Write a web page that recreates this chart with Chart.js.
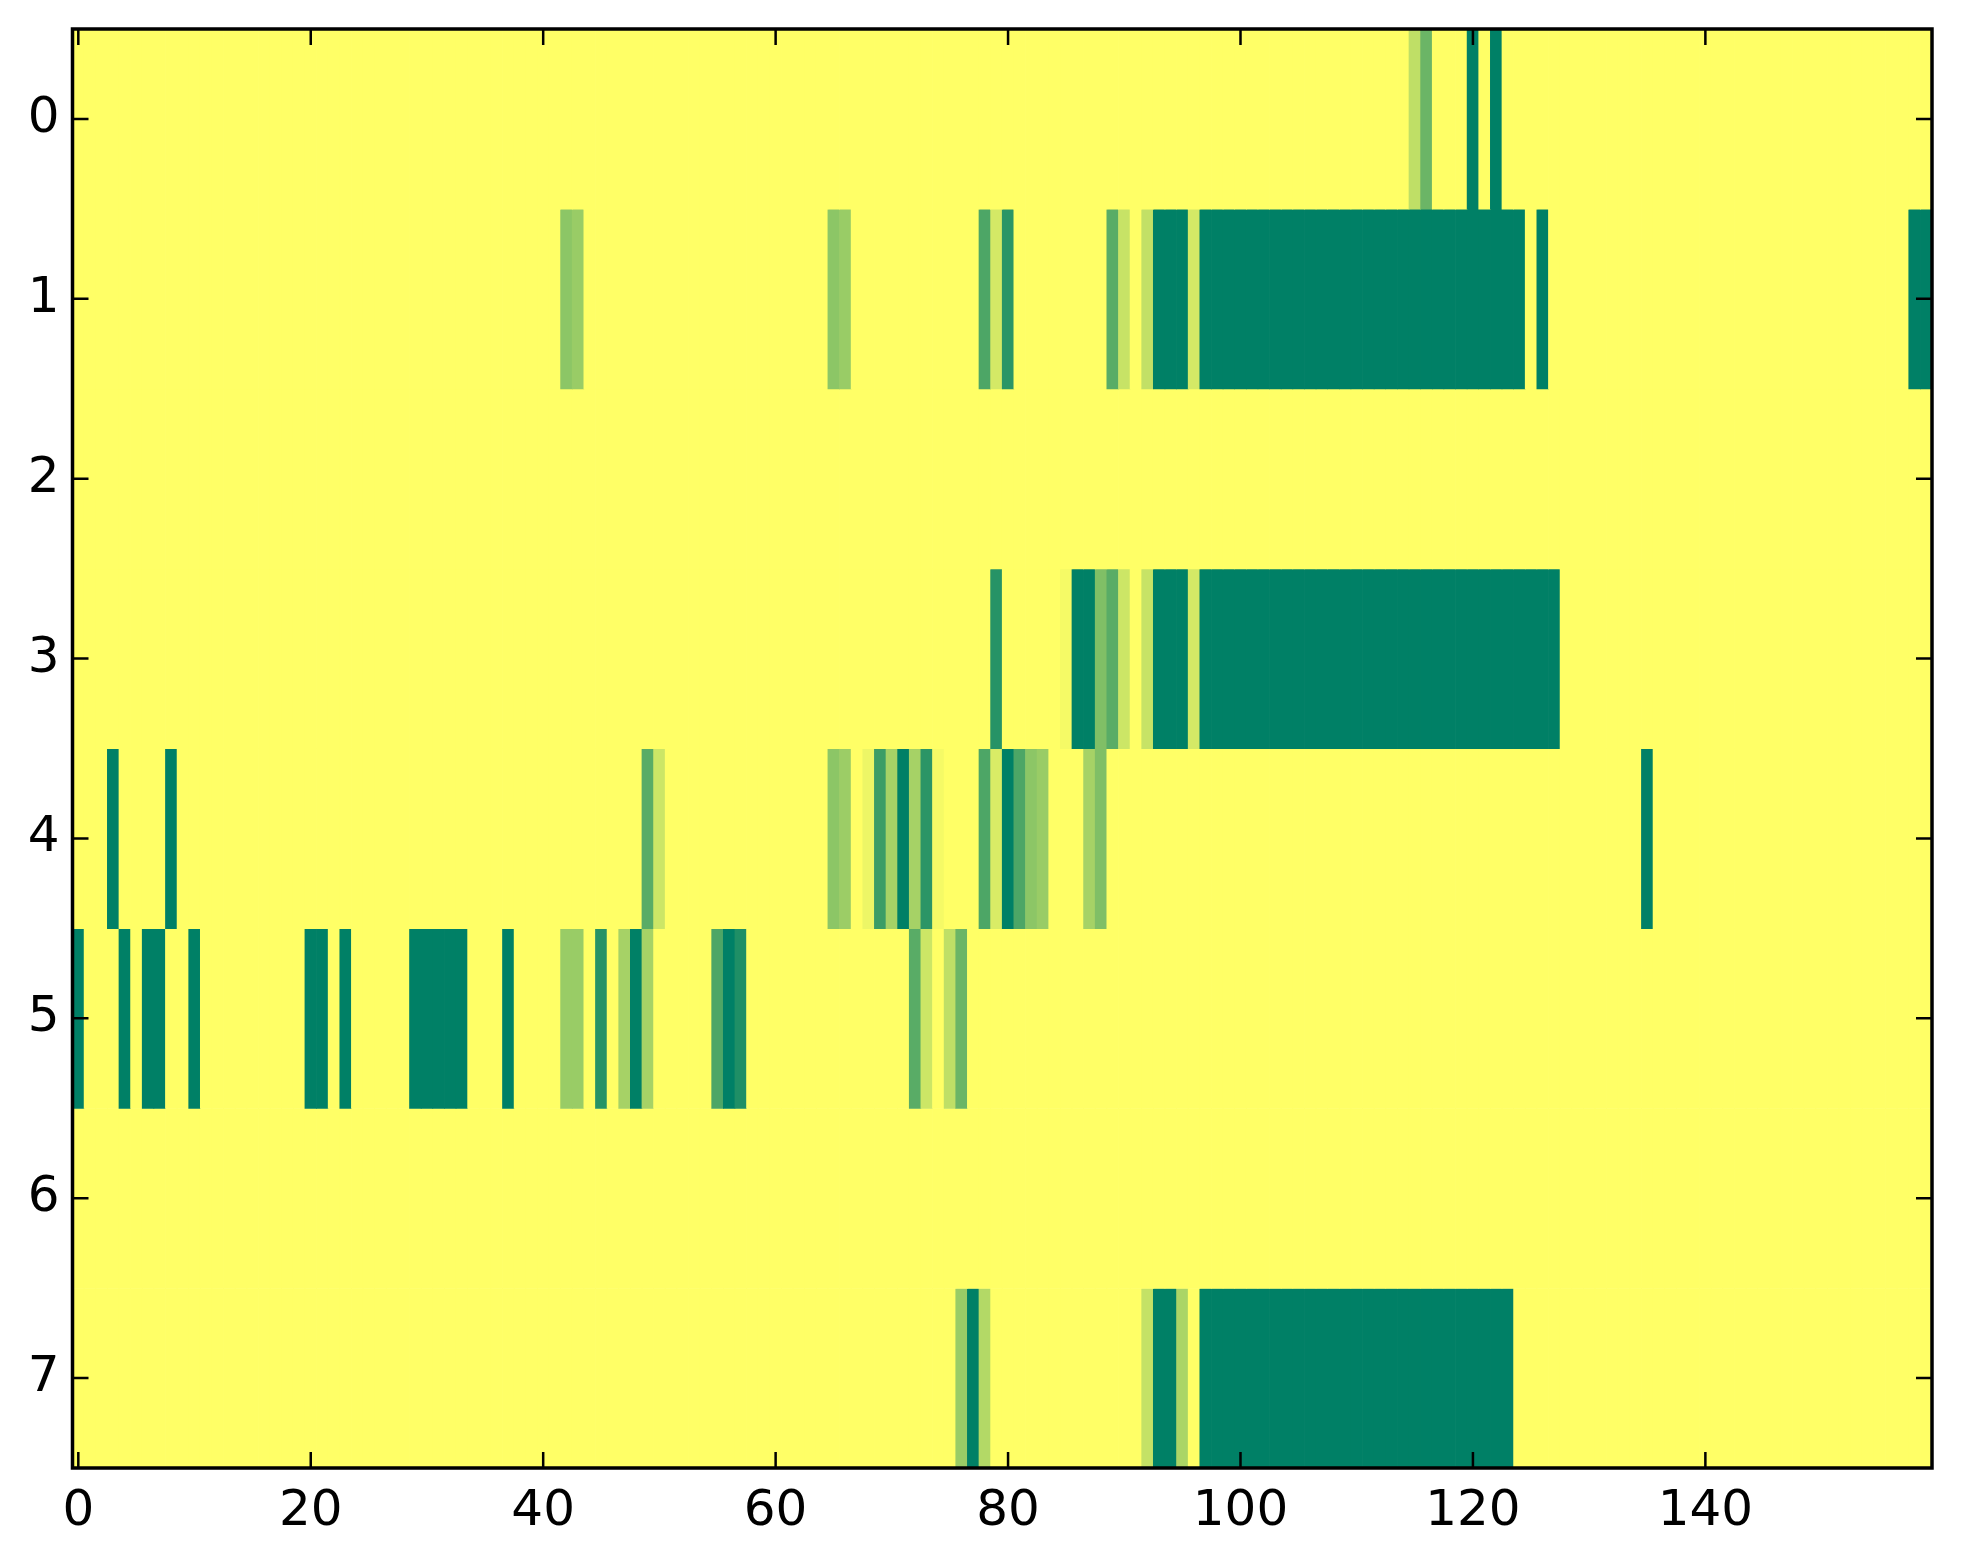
<!DOCTYPE html>
<html>
<head>
<meta charset="utf-8">
<script src="https://cdn.jsdelivr.net/npm/chart.js@4.4.1/dist/chart.umd.min.js"></script>
<style>
  html, body { margin: 0; padding: 0; background: #fff; }
  #wrap { width: 1963px; height: 1564px; position: relative; }
</style>
</head>
<body>
<div id="wrap"><canvas id="heat"></canvas></div>
<script>
// grid size
const nCols = 160;
const rowLabels = [0, 1, 2, 3, 4, 5, 6, 7];
const xTicks = [0, 20, 40, 60, 80, 100, 120, 140];

// non-zero cells of each row, as [column, value]  (value 0..1, everything else is 0)
const row0 = [[115, 0.25], [116, 0.58], [120, 1], [122, 1]];
const row1 = [[42, 0.45], [43, 0.4], [65, 0.45], [66, 0.4], [78, 0.7], [79, 0.17], [80, 0.83],
  [89, 0.65], [90, 0.22], [92, 0.24], [93, 1], [94, 1], [95, 1], [96, 0.17],
  [97, 1], [98, 1], [99, 1], [100, 1], [101, 1], [102, 1], [103, 1], [104, 1], [105, 1], [106, 1],
  [107, 1], [108, 1], [109, 1], [110, 1], [111, 1], [112, 1], [113, 1], [114, 1], [115, 1], [116, 1],
  [117, 1], [118, 1], [119, 1], [120, 1], [121, 1], [122, 1], [123, 1], [124, 1],
  [126, 1], [158, 1], [159, 1]];
const row2 = [];
const row3 = [[79, 0.85], [85, 0.04], [86, 1], [87, 1], [88, 0.5], [89, 0.65], [90, 0.2],
  [92, 0.22], [93, 1], [94, 1], [95, 1], [96, 0.17],
  [97, 1], [98, 1], [99, 1], [100, 1], [101, 1], [102, 1], [103, 1], [104, 1], [105, 1], [106, 1],
  [107, 1], [108, 1], [109, 1], [110, 1], [111, 1], [112, 1], [113, 1], [114, 1], [115, 1], [116, 1],
  [117, 1], [118, 1], [119, 1], [120, 1], [121, 1], [122, 1], [123, 1], [124, 1], [125, 1], [126, 1],
  [127, 1]];
const row4 = [[3, 1], [8, 1], [49, 0.65], [50, 0.2], [65, 0.45], [66, 0.39], [68, 0.07], [69, 0.77],
  [70, 0.35], [71, 1], [72, 0.35], [73, 0.83], [74, 0.04], [78, 0.7], [79, 0.15], [80, 1],
  [81, 0.7], [82, 0.45], [83, 0.4], [87, 0.35], [88, 0.5], [135, 1]];
const row5 = [[0, 1], [4, 1], [6, 1], [7, 1], [10, 1], [20, 1], [21, 1], [23, 1],
  [29, 1], [30, 1], [31, 1], [32, 1], [33, 1], [37, 1], [42, 0.4], [43, 0.4], [45, 0.85],
  [47, 0.35], [48, 1], [49, 0.35], [55, 0.7], [56, 1], [57, 0.88],
  [72, 0.65], [73, 0.2], [75, 0.25], [76, 0.58]];
const row6 = [];
const row7 = [[76, 0.4], [77, 1], [78, 0.3], [92, 0.23], [93, 1], [94, 1], [95, 0.33],
  [97, 1], [98, 1], [99, 1], [100, 1], [101, 1], [102, 1], [103, 1], [104, 1], [105, 1], [106, 1],
  [107, 1], [108, 1], [109, 1], [110, 1], [111, 1], [112, 1], [113, 1], [114, 1], [115, 1], [116, 1],
  [117, 1], [118, 1], [119, 1], [120, 1], [121, 1], [122, 1], [123, 1]];

const rows = [row0, row1, row2, row3, row4, row5, row6, row7];

// summer_r colormap : 0 -> yellow, 1 -> dark green
function summerR(v) {
  const r = Math.round(255 * (1 - v));
  const g = Math.round(255 * (1 - v / 2));
  return 'rgb(' + r + ',' + g + ',102)';
}

// one dataset per row, one floating bar per column
const datasets = rows.map(function (cells, r) {
  const vals = new Array(nCols).fill(0);
  cells.forEach(function (c) { vals[c[0]] = c[1]; });
  return {
    data: vals.map(function (v, c) { return { x: c, y: [r - 0.5, r + 0.503] }; }),
    backgroundColor: vals.map(summerR),
    borderWidth: 0,
    barPercentage: 1.06,
    categoryPercentage: 1,
    grouped: false
  };
});

const font = { family: 'DejaVu Sans', size: 50 };

// ticks pointing into the plot, on all four sides, plus the frame
const innerTicks = {
  id: 'innerTicks',
  afterDraw(chart) {
    const ctx = chart.ctx;
    const a = chart.chartArea;
    const len = 16;
    ctx.save();
    ctx.strokeStyle = '#000';
    ctx.lineWidth = 2.5;
    ctx.beginPath();
    xTicks.forEach(function (t) {
      const px = chart.scales.x.getPixelForValue(t);
      ctx.moveTo(px, a.bottom); ctx.lineTo(px, a.bottom - len);
      ctx.moveTo(px, a.top); ctx.lineTo(px, a.top + len);
    });
    rowLabels.forEach(function (t) {
      const py = chart.scales.y.getPixelForValue(t);
      ctx.moveTo(a.left, py); ctx.lineTo(a.left + len, py);
      ctx.moveTo(a.right, py); ctx.lineTo(a.right - len, py);
    });
    ctx.stroke();
    ctx.lineWidth = 3.5;
    ctx.strokeRect(a.left, a.top, a.right - a.left, a.bottom - a.top);
    ctx.restore();
  }
};

function noEdgePadding(s) {
  s.paddingTop = 0; s.paddingBottom = 0; s.paddingLeft = 0; s.paddingRight = 0;
}

new Chart(document.getElementById('heat'), {
  type: 'bar',
  data: { datasets: datasets },
  options: {
    responsive: true,
    maintainAspectRatio: false,
    animation: false,
    layout: { padding: { left: 0, right: 31, top: 29, bottom: 0 } },
    plugins: { legend: { display: false }, tooltip: { enabled: false } },
    scales: {
      x: {
        type: 'linear',
        offset: false,
        min: -0.5,
        max: 159.5,
        afterBuildTicks: function (s) { s.ticks = xTicks.map(function (v) { return { value: v }; }); },
        ticks: { font: font, color: '#000', padding: 14, maxRotation: 0, includeBounds: false },
        grid: { display: false, drawTicks: false, offset: false },
        border: { display: false },
        afterFit: function (s) { s.height = 96; noEdgePadding(s); }
      },
      y: {
        type: 'linear',
        reverse: true,
        offset: false,
        min: -0.5,
        max: 7.5,
        afterBuildTicks: function (s) { s.ticks = rowLabels.map(function (v) { return { value: v }; }); },
        ticks: { font: font, color: '#000', padding: 13, includeBounds: false },
        grid: { display: false, drawTicks: false },
        border: { display: false },
        afterFit: function (s) { s.width = 72.5; noEdgePadding(s); }
      }
    }
  },
  plugins: [innerTicks]
});
</script>
</body>
</html>
